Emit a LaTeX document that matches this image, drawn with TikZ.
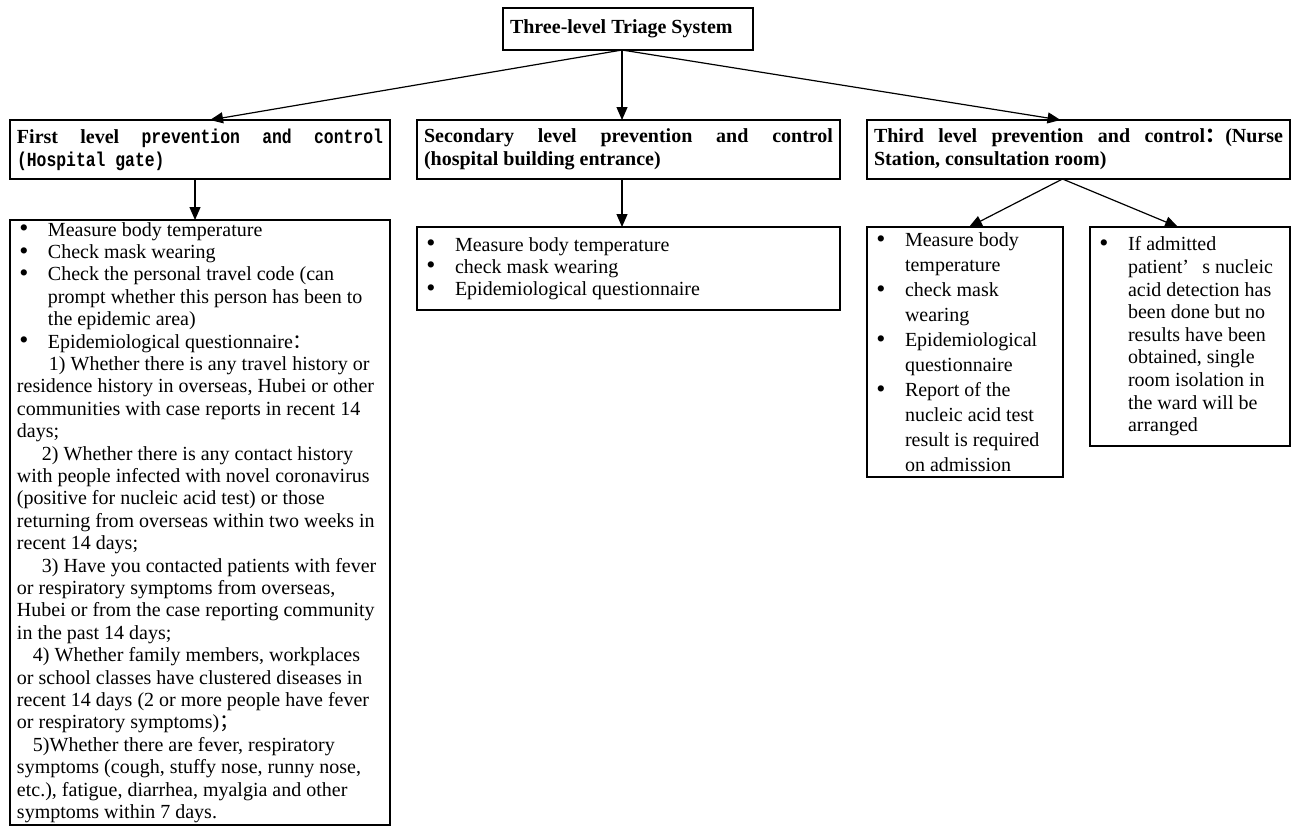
\documentclass[tikz,border=0pt]{standalone}
\usepackage{fontspec}
\setmainfont{Liberation Serif}
\newfontfamily\hdmono[FakeStretch=0.82]{Liberation Mono}
\newfontfamily\cjk{Noto Sans CJK SC}
\usetikzlibrary{positioning,arrows.meta}
\newcommand{\itm}{\makebox[15.5pt][l]{\hspace{1.2pt}\smash{\raisebox{-0.35pt}{\scalebox{1.3}{\textbullet}}}}}
\newcommand{\cont}{\hspace*{15.5pt}}

\begin{document}
\begin{tikzpicture}[
  box/.style={draw=black,rectangle,line width=0.6pt,inner xsep=3.5pt,inner ysep=0pt,outer sep=0pt,align=flush left},
  title/.style={box,font=\bfseries\fontsize{10}{12}\selectfont,text width=118pt,minimum height=21pt},
  level/.style={box,font=\bfseries\fontsize{10}{11.5}\selectfont,minimum height=29.5pt},
  measures/.style={box,font=\fontsize{10}{11.2}\selectfont},
  flow/.style={-{Triangle[length=6.5pt,width=5.5pt]},draw=black,line width=0.6pt}]
  \useasboundingbox (0,0) rectangle (646.5pt,-413pt);
  \node[title] (triage) at (314pt,-14.5pt) {Three-level Triage System};
  \node[level,text width=183pt] (first) at (100pt,-74.75pt) {First\hfill level\hfill{\hdmono prevention}\hfill{\hdmono and}\hfill{\hdmono control}\\{\hdmono (Hospital gate)}};
  \node[level,text width=204.5pt,right=13.5pt of first] (second) {Secondary\hfill level\hfill prevention\hfill and\hfill control\\(hospital building entrance)};
  \node[level,text width=204.5pt,right=13.5pt of second] (third) {Third\hfill level\hfill prevention\hfill and\hfill control{\cjk ：}(Nurse\\Station, consultation room)};
  \node[measures,text width=183pt,minimum height=302.5pt,below=20.5pt of first] (gate) {\itm Measure body temperature\\
    \itm Check mask wearing\\
    \itm Check the personal travel code (can\\
    \cont prompt whether this person has been to\\
    \cont the epidemic area)\\
    \itm Epidemiological questionnaire{\cjk ：}\\
    \hspace*{16pt}1) Whether there is any travel history or\\
    residence history in overseas, Hubei or other\\
    communities with case reports in recent 14\\
    days;\\
    \hspace*{12.5pt}2) Whether there is any contact history\\
    with people infected with novel coronavirus\\
    (positive for nucleic acid test) or those\\
    returning from overseas within two weeks in\\
    recent 14 days;\\
    \hspace*{12.5pt}3) Have you contacted patients with fever\\
    or respiratory symptoms from overseas,\\
    Hubei or from the case reporting community\\
    in the past 14 days;\\
    \hspace*{8pt}4) Whether family members, workplaces\\
    or school classes have clustered diseases in\\
    recent 14 days (2 or more people have fever\\
    or respiratory symptoms){\cjk ；}\\
    \hspace*{8pt}5)Whether there are fever, respiratory\\
    symptoms (cough, stuffy nose, runny nose,\\
    etc.), fatigue, diarrhea, myalgia and other\\
    symptoms within 7 days.};
  \node[measures,text width=204.5pt,minimum height=41.5pt,below=24pt of second,font=\fontsize{10}{11.1}\selectfont] (entrance) {\itm Measure body temperature\\
    \itm check mask wearing\\
    \itm Epidemiological questionnaire};
  \node[measures,text width=91pt,minimum height=125pt,below right=24pt and 0pt of third.south west,font=\fontsize{10}{12.5}\selectfont] (ward) {\itm Measure body\\
    \cont temperature\\
    \itm check mask\\
    \cont wearing\\
    \itm Epidemiological\\
    \cont questionnaire\\
    \itm Report of the\\
    \cont nucleic acid test\\
    \cont result is required\\
    \cont on admission};
  \node[measures,text width=93pt,minimum height=109.5pt,below left=24pt and 0pt of third.south east,font=\fontsize{10}{11.3}\selectfont] (isolation) {\itm If admitted\\
    \cont patient\makebox[10pt][l]{’}s nucleic\\
    \cont acid detection has\\
    \cont been done but no\\
    \cont results have been\\
    \cont obtained, single\\
    \cont room isolation in\\
    \cont the ward will be\\
    \cont arranged};
  \coordinate (fork) at ([xshift=-3pt]triage.south);
  \coordinate (split) at ([xshift=-8pt]third.south);
  \draw[flow] (fork) -- ([xshift=5pt]first.north);
  \draw[flow] (fork) -- (fork |- second.north);
  \draw[flow] (fork) -- ([xshift=-9pt]third.north);
  \draw[flow] ([xshift=-2.5pt]first.south) -- ([xshift=-2.5pt]gate.north);
  \draw[flow] (fork |- second.south) -- (fork |- entrance.north);
  \draw[flow] (split) -- ([xshift=2pt]ward.north);
  \draw[flow] (split) -- ([xshift=-6pt]isolation.north);
\end{tikzpicture}
\end{document}
